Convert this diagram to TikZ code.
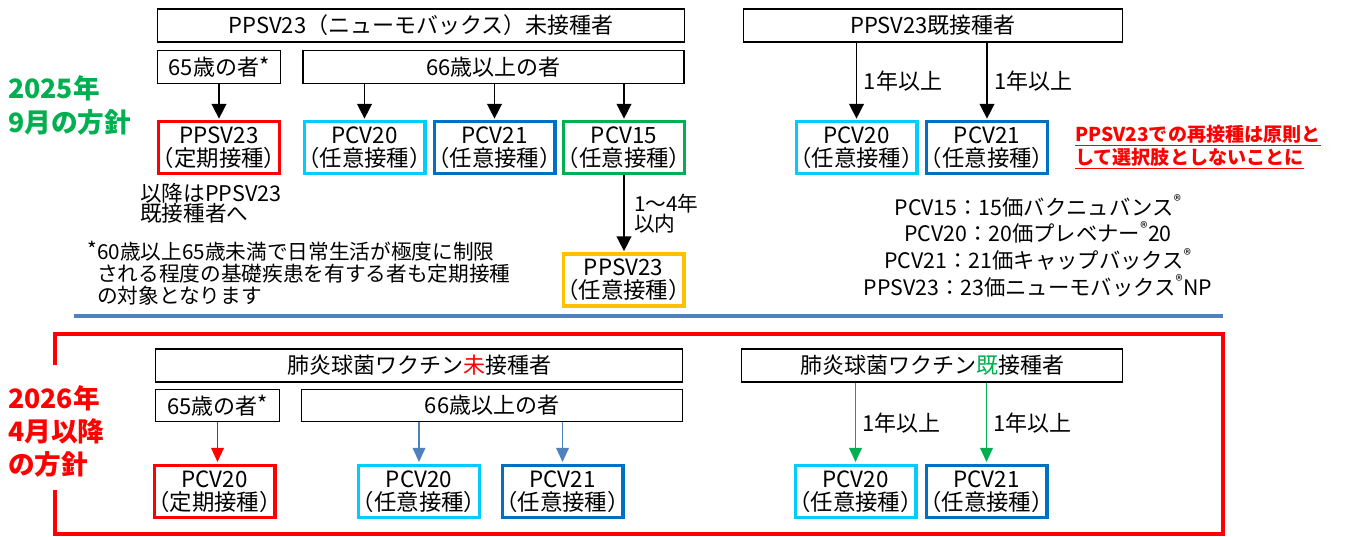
\documentclass[tikz,border=0pt]{standalone}
\usepackage{fontspec}
\setmainfont{Noto Sans CJK JP}
\usetikzlibrary{arrows.meta}

\definecolor{boxcyan}{RGB}{0,204,255}
\definecolor{boxblue}{RGB}{0,112,192}
\definecolor{boxgreen}{RGB}{0,176,80}
\definecolor{boxred}{RGB}{255,0,0}
\definecolor{boxyellow}{RGB}{255,192,0}
\definecolor{lineblue}{RGB}{79,129,189}

\newcommand{\fsz}[2]{\fontsize{#1}{#2}\selectfont}
% narrow full-width brackets
\newcommand{\lpar}{\makebox[0.5em][r]{（}}
\newcommand{\rpar}{\makebox[0.5em][l]{）}}

\begin{document}
\begin{tikzpicture}[x=0.75pt,y=-0.75pt]
% Style definitions
\tikzset{
    group/.style={draw, line width=1.1pt, inner sep=0pt, minimum height=25pt,
                  font=\fsz{16.5}{19}},
    vaccine/.style={draw, line width=2.3pt, inner sep=0pt, minimum width=90.7pt,
                    minimum height=39pt, align=center, font=\fsz{16.8}{17.5}},
    note/.style={inner sep=0pt, align=left, font=\fsz{15.5}{16.5}},
    period/.style={inner sep=0pt, align=left, font=\bfseries\fsz{20}{26}},
    flow/.style={-{Triangle[width=11pt,length=11pt]}, line width=1.1pt, shorten >=1pt},
    thinflow/.style={-{Triangle[width=9.5pt,length=10.5pt]}, line width=0.9pt, shorten >=1.5pt}
}
\useasboundingbox (0,0) rectangle (1345,536);

% Policy labels on the left
\node[period, text=boxgreen, anchor=west] (label2025) at (8,105.5) {2025年\\9月の方針};
\node[period, text=boxred, anchor=west, font=\bfseries\fsz{20}{25}] (label2026) at (8,431.5) {2026年\\4月以降\\の方針};

% Top left: not yet vaccinated
\node[group, minimum width=395pt] (unvacA) at (421,25.5) {PPSV23（ニューモバックス）未接種者};
\node[group, minimum width=92pt, minimum height=24.5pt] (age65A) at (219,67) {65歳の者\raisebox{1pt}{*}};
\node[group, minimum width=286pt, minimum height=24.5pt] (age66A) at (493.5,67) {66歳以上の者};

\node[vaccine, draw=boxred] (ppsvA) at (219,147.5) {PPSV23\\\lpar 定期接種\rpar};
\node[vaccine, draw=boxcyan] (pcv20A) at (364.5,147.5) {PCV20\\\lpar 任意接種\rpar};
\node[vaccine, draw=boxblue] (pcv21A) at (494.5,147.5) {PCV21\\\lpar 任意接種\rpar};
\node[vaccine, draw=boxgreen] (pcv15A) at (624,147.5) {PCV15\\\lpar 任意接種\rpar};
\node[vaccine, draw=boxyellow] (ppsvOpt) at (623.5,280) {PPSV23\\\lpar 任意接種\rpar};

\node[note, anchor=west, font=\fsz{16.2}{15}] (afterA) at (140,203) {以降はPPSV23\\既接種者へ};
\node[note, anchor=west] (footA) at (97,273) {\llap{\raisebox{1pt}{*}}60歳以上65歳未満で日常生活が極度に制限\\される程度の基礎疾患を有する者も定期接種\\の対象となります};

% Top right: already vaccinated
\node[group, minimum width=284pt] (doneA) at (933,25.5) {PPSV23既接種者};
\node[vaccine, draw=boxcyan] (pcv20B) at (856.5,147.5) {PCV20\\\lpar 任意接種\rpar};
\node[vaccine, draw=boxblue] (pcv21B) at (987,147.5) {PCV21\\\lpar 任意接種\rpar};

\node[inner sep=0pt, anchor=west, align=left, text=boxred, font=\bfseries\fsz{14.3}{17.5}] (rePPSV) at (1075,147)
    {\underline{PPSV23での再接種は原則と}\\\underline{して選択肢としないことに}};
\node[inner sep=0pt, align=center, font=\fsz{16}{20}] (legend) at (1038,246)
    {PCV15：15価バクニュバンス\textsuperscript{®}\\PCV20：20価プレベナー\textsuperscript{®}20\\PCV21：21価キャップバックス\textsuperscript{®}\\PPSV23：23価ニューモバックス\textsuperscript{®}NP};

% Top arrows
\draw[flow] (age65A) -- (ppsvA);
\draw[flow] (age66A.south -| pcv20A) -- (pcv20A);
\draw[flow] (age66A.south -| pcv21A) -- (pcv21A);
\draw[flow] (age66A.south -| pcv15A) -- (pcv15A);
\draw[flow] (pcv15A.south) -- node[note, right, xshift=7pt, font=\fsz{15.5}{15}] {1～4年\\以内} (pcv15A.south |- ppsvOpt.north);
\draw[flow] (doneA.south -| pcv20B) -- node[note, right, xshift=5pt, font=\fsz{16.5}{19}] {1年以上} (pcv20B);
\draw[flow] (doneA.south -| pcv21B) -- node[note, right, xshift=5pt, font=\fsz{16.5}{19}] {1年以上} (pcv21B);

% Separator and frame
\draw[lineblue, line width=2.3pt] (74,316) -- (1223,316);
\draw[boxred, line width=2.3pt] (55,365) |- (1223,334) |- (55,534) -- (55,490);

% Bottom left: not yet vaccinated
\node[group, minimum width=395pt] (unvacC) at (419,365.5) {肺炎球菌ワクチン\textcolor{boxred}{未}接種者};
\node[group, minimum width=93pt, minimum height=24pt] (age65C) at (217.5,405.5) {65歳の者\raisebox{1pt}{*}};
\node[group, minimum width=285.5pt, minimum height=24pt] (age66C) at (492,405.5) {66歳以上の者};

\node[vaccine, draw=boxred] (pcv20C) at (214.5,491.5) {PCV20\\\lpar 定期接種\rpar};
\node[vaccine, draw=boxcyan] (pcv20D) at (419,491.5) {PCV20\\\lpar 任意接種\rpar};
\node[vaccine, draw=boxblue] (pcv21D) at (562.5,491.5) {PCV21\\\lpar 任意接種\rpar};

% Bottom right: already vaccinated
\node[group, minimum width=285.5pt] (doneC) at (932,365.5) {肺炎球菌ワクチン\textcolor{boxgreen}{既}接種者};
\node[vaccine, draw=boxcyan] (pcv20E) at (855.5,491.5) {PCV20\\\lpar 任意接種\rpar};
\node[vaccine, draw=boxblue] (pcv21E) at (986.5,491.5) {PCV21\\\lpar 任意接種\rpar};

% Bottom arrows
\draw[thinflow, boxred] (age65C.south) -- (age65C.south |- pcv20C.north);
\draw[thinflow, lineblue] (age66C.south -| pcv20D) -- (pcv20D);
\draw[thinflow, lineblue] (age66C.south -| pcv21D) -- (pcv21D);
\draw[thinflow, boxgreen] (doneC.south -| pcv20E) -- node[note, right, xshift=5pt, text=black, font=\fsz{16.5}{19}] {1年以上} (pcv20E);
\draw[thinflow, boxgreen] (doneC.south -| pcv21E) -- node[note, right, xshift=5pt, text=black, font=\fsz{16.5}{19}] {1年以上} (pcv21E);

\end{tikzpicture}
\end{document}
